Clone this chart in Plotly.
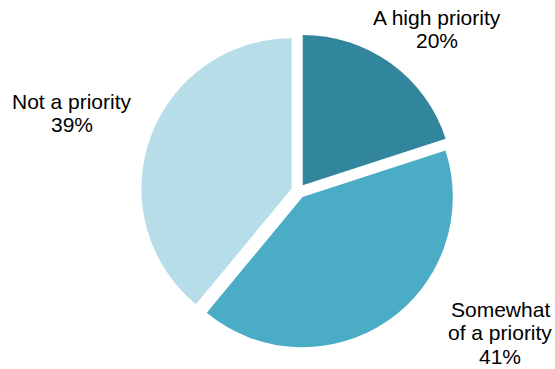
import plotly.graph_objects as go

labels = ["A high priority", "Somewhat of a priority", "Not a priority"]
label_lines = [["A high priority"], ["Somewhat", "of a priority"], ["Not a priority"]]
values = [20, 41, 39]
colors = ["#31859C", "#4BACC6", "#B7DEE8"]

W, H = 555, 369
# label placement (pixel centers of each text block: x center, first line center y)
label_pos = [(437, 17), (500, 309), (72, 101)]
line_gap = 23.5

fig = go.Figure(go.Pie(
    labels=labels, values=values, sort=False, direction="clockwise", rotation=0,
    marker=dict(colors=colors, line=dict(width=0)),
    pull=[0.048] * 3, textinfo="none", hoverinfo="label+percent",
    domain=dict(x=[0.2378, 0.8378], y=[1 - 348.5 / H, 1 - 33.5 / H]),
    showlegend=False,
))

annotations = []
for lines, v, (px, py) in zip(label_lines, values, label_pos):
    all_lines = lines + [f"{v}%"]
    for i, t in enumerate(all_lines):
        annotations.append(dict(
            text=t, x=px / W, y=1 - (py + i * line_gap) / H, xref="paper", yref="paper",
            xanchor="center", yanchor="middle", showarrow=False,
            font=dict(family="Liberation Sans, Arial, sans-serif", size=21, color="#000000"),
        ))

fig.update_layout(
    width=W, height=H, margin=dict(l=0, r=0, t=0, b=0),
    paper_bgcolor="white", plot_bgcolor="white", annotations=annotations,
)
fig.write_html(
    "out.html",
    config={"displayModeBar": False},
    post_script="document.body.style.margin='0';document.body.style.overflow='hidden';",
)
